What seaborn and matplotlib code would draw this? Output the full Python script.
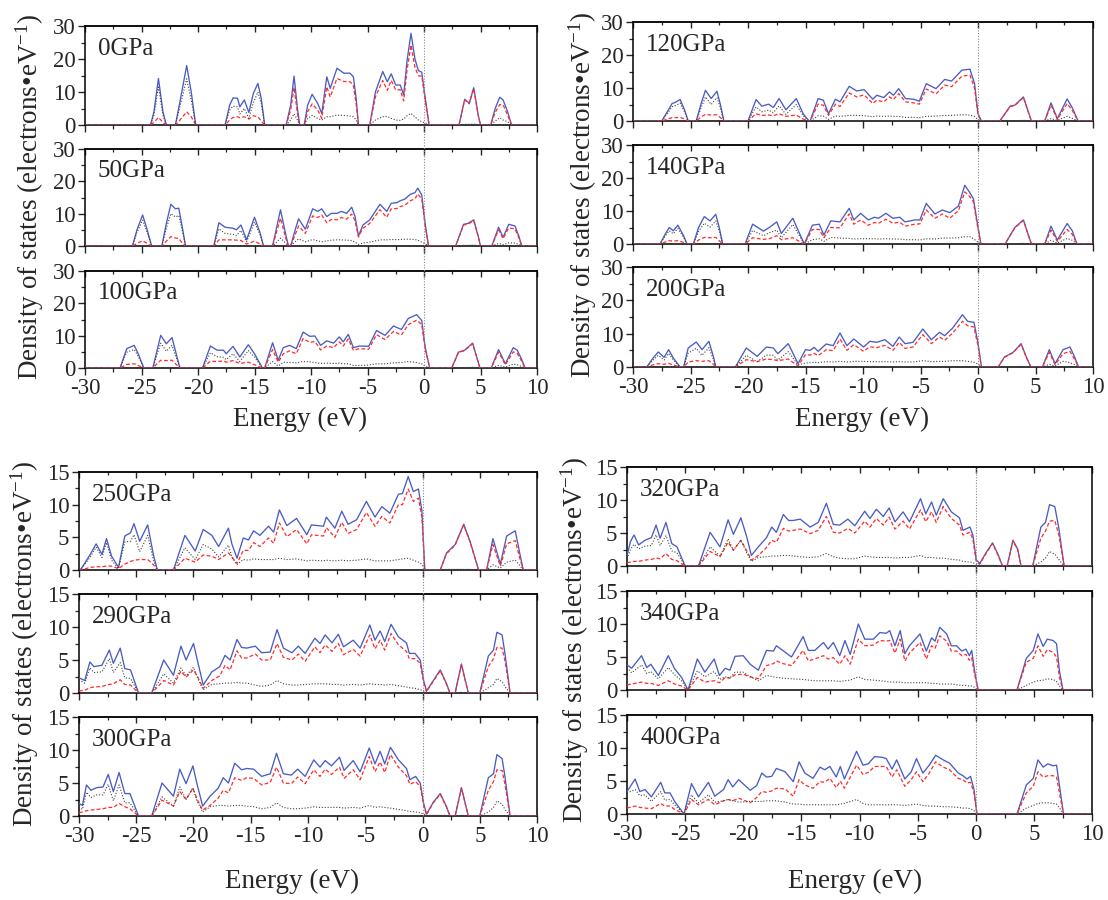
import numpy as np
import pandas as pd
import matplotlib
matplotlib.use('Agg')
import matplotlib.pyplot as plt
import seaborn as sns
from matplotlib.lines import Line2D
from matplotlib.ticker import MultipleLocator

sns.set_style('ticks')
plt.rcParams['font.family'] = ['Liberation Serif', 'DejaVu Serif']
plt.rcParams['mathtext.fontset'] = 'custom'
plt.rcParams['mathtext.rm'] = 'Liberation Serif'
plt.rcParams['mathtext.it'] = 'Liberation Serif:italic'
plt.rcParams['axes.unicode_minus'] = False
plt.rcParams['lines.solid_joinstyle'] = 'round'
plt.rcParams['lines.dash_joinstyle'] = 'round'

# ---- data: rows of (energy eV, total DOS, p-like (red dashed), s-like (black dotted)) ----
P0 = [(-30,0,0,0),(-24.2,0,0,0),(-23.9,4,0.8,3),(-23.5,14.1,2.3,11.5),(-23.1,4,0.8,3),(-22.8,0,0,0),
      (-22.0,0,0,0),(-21.6,7,1.5,5.5),(-21.0,18,4,14),(-20.6,10,2.5,7.5),(-20.2,0,0,0),
      (-17.6,0,0,0),(-17.2,6,1.5,4.5),(-16.9,8.2,2.3,5.7),(-16.5,8.1,2.5,5.5),(-16.3,5.5,2.2,3.3),(-15.9,7.6,2.5,5),
      (-15.5,3.8,1.8,2),(-15.1,9.6,2.8,6.8),(-14.7,12.6,2.5,10),(-14.4,8,1.2,6.5),(-14.1,0,0,0),
      (-12.2,0,0,0),(-11.8,6,4.5,1.5),(-11.5,14.8,11.4,3.4),(-11.2,5,3.5,1.5),(-11.0,0,0,0),
      (-10.6,0,0,0),(-10.3,6,4,2),(-9.9,9.3,6.4,2.9),(-9.4,6.5,4.5,2),(-9.05,3.5,2,1.5),(-8.6,14.6,11.6,2.5),
      (-8.3,11.1,8.5,2.5),(-7.7,17.2,14.1,3),(-7.1,15.7,13.2,2.9),(-6.55,15.7,13.1,2.7),(-6.25,14.6,12.1,2.5),
      (-6.0,8,6.2,1.5),(-5.8,0,0,0),(-4.8,0,0,0),(-4.3,10,8.5,1.5),(-3.65,16.2,13.5,2.5),(-3.25,13.1,10.5,2.6),
      (-2.9,15.5,13.5,2),(-2.5,12.1,10.6,1.5),(-2.1,12.1,10.7,1.4),(-1.8,9.1,7.3,1.8),(-1.5,19.5,16.7,2.8),
      (-1.15,27.8,24.2,3.5),(-0.8,20,17.5,2.5),(-0.5,16.5,14.9,1.5),(-0.2,16,14.8,1.0),(0.2,6,5.4,0.5),(0.45,0,0,0),
      (3.1,0,0,0),(3.6,7.8,7.6,0.2),(4.0,6.6,6.4,0.2),(4.4,11.3,11.0,0.3),(4.8,3,2.9,0.1),(5.0,0,0,0),
      (5.9,0,0,0),(6.3,5,3.8,1.2),(6.7,8.4,6.2,2.2),(7.0,7.6,6.1,1.5),(7.4,4,3,1),(7.75,0,0,0),(10,0,0,0)]

P50 = [(-30,0,0,0),(-25.8,0,0,0),(-25.4,5,0.8,4.2),(-24.9,9.6,1.6,8),(-24.5,5,0.8,4.2),(-24.1,0,0,0),
       (-23.2,0,0,0),(-22.8,7,1.5,5.5),(-22.4,12.9,2.9,10),(-22.0,11.5,2.5,9),(-21.7,11.7,2.3,9.4),(-21.4,6,1,5),(-21.1,0,0,0),
       (-18.6,0,0,0),(-18.15,7.2,1.9,5.3),(-17.6,5.8,1.9,3.9),(-16.9,5.5,1.9,3.6),(-16.6,5.0,1.8,3.2),(-16.2,6.5,1.7,4.8),
       (-15.7,1.9,0.6,1.3),(-15.0,8.9,1.5,7.4),(-14.5,4,0.6,3.4),(-14.2,0,0,0),
       (-13.4,0,0,0),(-12.7,11.2,8.6,2.4),(-12.2,3,2,0.8),(-12.0,0,0,0),
       (-11.8,0,0,0),(-11.4,5,3.5,1.3),(-11.1,8.4,6.2,2.2),(-10.5,5.2,3.9,1.3),(-9.85,11.5,9.3,2.0),(-9.4,10.7,8.8,1.6),
       (-9.05,11.5,9.6,1.3),(-8.6,9.1,7.2,1.6),(-8.2,10.1,8.2,1.8),(-7.7,10.1,8.1,1.9),(-7.3,10.7,8.8,1.9),
       (-6.85,10.1,8.3,1.8),(-6.4,12,9.9,1.7),(-6.1,9.1,7.8,1.2),(-5.8,3.1,2.8,0.5),(-5.4,6.5,5.5,0.9),(-4.8,8.1,7.0,1.2),
       (-3.9,12.9,11.2,1.9),(-3.3,10.7,8.9,1.9),(-2.9,13.2,11.5,2.0),(-2.4,13.4,11.6,2.0),(-2.1,14,12.2,2.0),
       (-1.7,14.5,12.6,2.1),(-1.2,16,14.0,2.1),(-0.8,16.5,14.6,2.0),(-0.55,17.9,16.1,1.8),(-0.2,15.8,14.6,1.2),
       (0.1,7,6.3,0.7),(0.4,0,0,0),
       (2.8,0,0,0),(3.5,6.7,6.5,0.2),(3.9,7,6.8,0.2),(4.4,8.1,7.8,0.3),(4.8,3,2.9,0.1),(5.0,0,0,0),
       (6.0,0,0,0),(6.6,5.8,5.0,0.8),(7.0,2.7,2.3,0.4),(7.5,6.7,5.6,1.0),(8.05,6.2,5.3,0.9),(8.4,3,2.5,0.5),(8.65,0,0,0),(10,0,0,0)]

P100 = [(-30,0,0,0),(-26.9,0,0,0),(-26.3,6,1.1,4.9),(-25.65,7.0,1.3,5.7),(-25.3,4.5,0.8,3.7),(-24.8,0,0,0),
        (-24.0,0,0,0),(-23.3,10.1,2.4,7.7),(-22.8,7.5,2.3,5.2),(-22.3,9.4,2.4,7.0),(-21.9,4,1,3),(-21.6,0,0,0),
        (-19.6,0,0,0),(-18.9,6.8,2.1,4.7),(-18.3,5.5,2.0,3.5),(-17.75,5.5,2.2,3.3),(-17.5,4.4,1.8,2.6),(-16.9,6.7,2.3,4.4),
        (-16.3,3.4,1.4,2.0),(-15.55,7.2,1.8,5.4),(-15.0,4.4,1.0,3.4),(-14.3,0,0,0),
        (-14.1,0,0,0),(-13.4,7.8,5.7,2.0),(-12.9,2.4,1.8,0.6),(-12.45,6.3,4.4,1.8),(-11.9,7.0,5.3,1.7),(-11.3,6.0,4.4,1.6),
        (-10.7,11.1,9.1,2.0),(-10.1,9.8,7.9,1.9),(-9.65,9.9,8.2,1.7),(-9.15,7.0,5.6,1.4),(-8.6,8.4,6.8,1.5),(-8.0,7.7,6.3,1.4),
        (-7.5,9.6,8.1,1.5),(-7.15,8.1,6.8,1.3),(-6.7,10.4,9.0,1.3),(-6.25,6.3,5.5,0.8),(-5.7,6.8,6.0,0.8),(-4.9,6.7,5.8,0.9),
        (-4.2,11.6,10.3,1.3),(-3.45,10.1,8.8,1.3),(-2.7,13.0,11.3,1.6),(-2.0,11.9,10.2,1.7),(-1.4,15.3,13.4,2.0),
        (-0.65,16.5,14.8,1.7),(-0.2,14.7,13.4,1.3),(0.1,6.5,6.0,0.5),(0.5,0,0,0),
        (2.45,0,0,0),(3.05,4.9,4.8,0.1),(3.6,5.5,5.4,0.1),(4.3,7.7,7.5,0.2),(4.7,3,2.9,0.1),(4.95,0,0,0),
        (5.95,0,0,0),(6.6,5.7,4.9,0.8),(7.2,1.3,1.0,0.3),(7.9,6.3,5.0,1.2),(8.25,5.5,4.5,1.0),(8.6,3,2.4,0.5),(8.95,0,0,0),(10,0,0,0)]

P120 = [(-30,0,0,0),(-27.5,0,0,0),(-26.9,3.5,0.7,2.8),(-26.6,5.3,1.0,4.3),(-26.35,5.6,1.0,4.6),(-25.9,6.5,1.1,5.4),
        (-25.5,3.2,0.6,2.6),(-25.2,0,0,0),
        (-24.5,0,0,0),(-24.1,5,1.2,3.8),(-23.7,9.3,2.0,7.3),(-23.2,6.8,1.8,5.0),(-22.7,9.0,1.9,7.1),(-22.4,5,1,4),(-22.1,0,0,0),
        (-20.0,0,0,0),(-19.3,6.5,2.2,4.3),(-18.8,4.5,1.7,2.8),(-18.2,5.1,1.8,3.3),(-17.8,4.1,1.6,2.5),(-17.3,6.8,2.2,4.6),
        (-16.7,3.4,1.4,2.0),(-15.8,6.8,1.8,5.0),(-15.2,2.2,0.6,1.6),(-14.7,0,0,0),
        (-14.6,0,0,0),(-13.9,6.8,5.1,1.6),(-13.45,6.3,4.8,1.5),(-13.0,2.2,1.7,0.5),(-12.4,6.6,5.1,1.5),(-12.0,5.8,4.4,1.4),
        (-11.2,10.5,8.5,1.7),(-10.55,9.1,7.3,1.7),(-9.9,9.5,7.9,1.6),(-9.15,6.6,5.3,1.3),(-8.8,7.8,6.3,1.5),(-8.2,7.1,5.8,1.4),
        (-7.7,8.8,7.3,1.5),(-7.35,7.8,6.5,1.4),(-6.9,9.8,8.3,1.4),(-6.3,6.8,5.8,1.1),(-5.6,6.6,5.5,1.1),(-5.1,6.0,5.1,1.0),
        (-4.5,11.3,9.7,1.4),(-3.65,9.8,8.2,1.5),(-2.9,12.6,10.9,1.7),(-2.3,12.1,10.4,1.7),(-1.4,15.4,13.6,1.9),
        (-0.7,15.7,13.9,1.8),(-0.3,11.3,10.0,1.3),(0.0,2.2,1.8,0.4),(0.3,0,0,0),
        (1.9,0,0,0),(2.8,4.5,4.4,0.1),(3.2,4.8,4.7,0.1),(3.95,7.3,7.1,0.2),(4.4,2.5,2.4,0.1),(4.65,0,0,0),
        (5.8,0,0,0),(6.35,5.5,4.8,0.7),(6.9,0.7,0.5,0.2),(7.75,6.7,5.3,1.4),(8.2,4,3.2,0.8),(8.7,0,0,0),(10,0,0,0)]

P140 = [(-30,0,0,0),(-27.65,0,0,0),(-27.2,3,0.6,2.4),(-26.85,5.0,1.0,4.0),(-26.5,4.0,0.9,3.1),(-26.1,5.7,1.0,4.7),
        (-25.6,2.5,0.5,2.0),(-25.3,0,0,0),
        (-24.75,0,0,0),(-24.3,5,1.2,3.8),(-23.8,8.3,2.0,6.3),(-23.3,7.0,1.9,5.1),(-22.8,9.0,2.0,7.0),(-22.5,5,1,4),(-22.2,0,0,0),
        (-20.25,0,0,0),(-19.6,6.0,1.9,4.1),(-18.65,3.9,1.4,2.5),(-18.15,5.0,1.6,3.4),(-17.5,6.7,2.5,4.2),(-17.1,3.2,1.3,1.9),
        (-16.1,7.8,1.9,5.9),(-15.65,4.2,1.0,3.2),(-15.1,0,0,0),
        (-14.4,5.7,4.4,1.3),(-13.8,6.0,4.4,1.6),(-13.4,2.7,1.9,0.8),(-12.8,7.0,5.0,2.0),(-12.0,6.7,4.9,1.8),(-11.2,10.8,9.1,1.7),
        (-10.8,7.3,6.0,1.5),(-10.2,9.3,7.3,1.6),(-9.55,7.3,5.7,1.6),(-9.0,8.1,6.5,1.6),(-8.65,7.8,6.3,1.5),(-8.0,9.3,7.5,1.6),
        (-7.4,7.8,6.3,1.5),(-6.8,8.1,6.6,1.5),(-6.35,6.7,5.4,1.3),(-5.5,7.3,6.0,1.3),(-5.05,7.3,6.1,1.2),(-4.5,12.3,10.3,1.6),
        (-3.75,9.1,7.8,1.5),(-3.1,10.3,9.1,1.8),(-2.45,9.5,7.8,1.8),(-1.7,11.5,10.1,1.9),(-1.15,17.8,15.8,2.2),
        (-0.7,15.5,14.3,2.2),(-0.4,13.7,12.8,1.6),(-0.1,7.3,6.5,0.8),(0.25,0,0,0),
        (2.35,0,0,0),(3.2,5.0,4.9,0.1),(3.95,7.3,7.1,0.2),(4.4,2.5,2.4,0.1),(4.65,0,0,0),
        (5.8,0,0,0),(6.35,5.4,4.2,1.1),(6.9,1.2,0.8,0.3),(7.75,6.2,4.4,1.7),(8.2,4,2.9,1.1),(8.6,0,0,0),(10,0,0,0)]

P200 = [(-30,0,0,0),(-28.8,0,0,0),(-28.3,2.5,0.6,1.9),(-27.8,4.5,1.0,3.5),(-27.3,2.9,0.8,2.1),(-26.9,5.2,1.1,4.1),
        (-26.5,2.7,0.6,2.1),(-25.9,0,0,0),
        (-25.6,0,0,0),(-25.2,5.7,1.5,4.2),(-24.5,7.5,1.9,5.6),(-24.0,5.2,1.7,3.5),(-23.4,7.7,1.9,5.8),(-23.0,3,0.8,2.2),(-22.8,0,0,0),
        (-21.1,0,0,0),(-20.15,5.7,2.2,3.5),(-19.2,3.2,1.6,1.6),(-18.4,6.0,2.4,3.6),(-17.8,5.7,2.2,3.5),(-17.4,4.0,1.9,2.1),
        (-16.5,7.0,2.4,4.6),(-16.1,4.2,1.4,2.8),(-15.65,1.0,0.4,0.6),
        (-15.0,5.2,3.7,1.2),(-14.6,5.0,3.6,1.3),(-14.25,5.9,4.1,1.4),(-13.9,4.7,3.4,1.3),(-13.2,6.9,5.2,1.6),(-12.6,6.4,4.9,1.5),
        (-12.0,10.2,8.4,1.7),(-11.4,6.4,5.0,1.5),(-10.8,8.4,6.7,1.7),(-9.95,6.0,4.7,1.7),(-9.4,7.7,6.1,1.6),(-8.8,7.4,5.8,1.6),
        (-8.1,8.2,6.5,1.6),(-7.4,6.2,5.0,1.5),(-6.85,9.0,7.4,1.6),(-6.35,7.0,5.6,1.5),(-5.65,7.4,6.0,1.5),(-4.8,11.4,9.7,1.9),
        (-4.05,8.2,7.0,1.6),(-3.35,10.4,9.0,1.7),(-2.9,9.4,8.0,1.7),(-2.2,11.7,10.2,1.9),(-1.35,15.7,13.7,1.9),
        (-0.9,13.7,12.4,1.7),(-0.35,13.4,12.0,1.4),(0.0,7.2,6.3,0.9),(0.3,0,0,0),
        (1.75,0,0,0),(2.3,3.0,2.9,0.1),(3.05,4.4,4.3,0.1),(3.75,7.0,6.8,0.2),(4.2,3,2.9,0.1),(4.6,0,0,0),
        (5.6,0,0,0),(6.2,5.2,4.4,0.8),(6.7,1.0,0.7,0.3),(7.4,5.2,4.0,1.7),(8.0,6.0,4.7,1.3),(8.4,3,2.3,0.7),(8.75,0,0,0),(10,0,0,0)]

P250 = [(-30,0,0,0),(-29.8,0.2,0,0.2),(-29.05,2.3,0.4,1.9),(-28.5,4.0,0.5,3.5),(-28.0,2.4,0.5,1.9),(-27.6,4.8,0.6,4.2),
        (-27.15,2.1,0.6,1.5),(-26.55,0.4,0.2,0.2),(-26.0,5.2,0.9,4.3),(-25.5,5.7,1.3,4.4),(-25.2,7.1,1.5,5.4),(-24.7,4.4,1.6,2.8),
        (-24.0,6.9,1.6,5.3),(-23.5,2.3,0.8,1.5),(-23.15,0,0,0),
        (-21.75,0,0,0),(-20.75,5.3,1.8,3.4),(-19.85,2.9,1.2,1.6),(-19.15,6.2,2.3,3.9),(-18.4,5.3,2.1,3.2),(-17.8,3.6,1.6,2.0),
        (-16.95,6.4,2.6,3.8),(-16.65,4.0,2.0,2.0),(-16.2,1.8,1.0,0.8),(-15.65,4.9,3.0,1.6),(-15.2,4.6,3.0,1.5),(-14.75,6.0,4.2,1.7),
        (-14.2,5.3,3.6,1.6),(-13.45,6.7,4.9,1.6),(-13.0,5.8,4.1,1.6),(-12.5,9.2,7.2,1.8),(-11.85,6.8,5.1,1.6),(-11.0,7.9,6.2,1.7),
        (-10.1,5.4,4.0,1.4),(-9.7,6.9,5.4,1.5),(-8.65,6.7,5.2,1.4),(-8.4,8.1,6.5,1.5),(-7.65,6.4,5.0,1.4),(-7.05,9.0,7.3,1.5),
        (-6.5,7.0,5.6,1.4),(-5.75,7.7,6.2,1.5),(-4.9,10.5,8.8,1.7),(-4.15,8.1,6.7,1.4),(-3.55,9.7,8.2,1.4),(-2.85,8.7,7.2,1.4),
        (-2.1,11.6,10.0,1.6),(-1.75,11.7,10.0,1.7),(-1.25,14.3,12.4,1.8),(-0.8,12.0,10.5,1.5),(-0.35,12.4,11.0,1.2),
        (-0.05,9.0,8.0,0.9),(0.2,0,0,0),
        (1.55,0,0,0),(2.1,2.6,2.5,0.1),(2.85,3.9,3.8,0.1),(3.6,7.0,6.9,0.1),(4.15,4.4,4.3,0.1),(4.9,0,0,0),
        (5.6,0,0,0),(6.15,4.8,3.9,0.8),(6.8,0.9,0.6,0.3),(7.35,5.2,4.0,1.2),(8.1,6.0,4.5,1.5),(8.5,2.5,1.8,0.7),(8.8,0,0,0),(10,0,0,0)]

P290 = [(-30,2.3,0.3,2.0),(-29.5,1.9,0.4,1.5),(-29.05,4.7,0.8,3.8),(-28.7,4.0,0.9,3.1),(-28.0,4.2,1.0,3.2),(-27.35,6.5,1.3,5.2),
        (-27.0,4.5,1.4,3.1),(-26.4,6.8,2.0,4.6),(-26.0,3.7,1.3,2.3),(-25.5,3.5,1.2,2.2),(-24.8,0,0,0),(-23.65,0,0,0),
        (-22.6,5.0,1.9,2.9),(-21.75,2.7,1.2,1.5),(-21.1,7.1,3.3,3.8),(-20.65,5.0,2.4,2.6),(-20.0,7.5,3.5,3.9),(-19.6,4.5,2.3,2.1),
        (-19.15,1.2,0.7,0.5),(-18.4,3.2,1.9,1.3),(-17.7,4.0,2.6,1.4),(-17.25,5.7,4.2,1.5),(-16.8,5.0,3.5,1.5),(-16.2,8.1,6.4,1.6),
        (-15.8,6.9,5.3,1.5),(-15.35,6.8,5.3,1.5),(-14.6,7.1,5.9,1.2),(-14.05,6.1,5.0,1.0),(-13.3,6.2,5.0,1.2),(-12.7,9.6,7.5,1.9),
        (-12.15,6.8,5.4,1.4),(-11.4,6.1,5.0,1.2),(-10.85,7.1,5.9,1.2),(-10.25,6.0,4.8,1.3),(-9.4,8.3,7.0,1.4),(-8.95,7.5,6.1,1.4),
        (-8.5,8.8,7.3,1.4),(-7.9,7.6,6.3,1.3),(-7.35,8.9,7.5,1.3),(-6.9,7.0,5.8,1.2),(-6.05,8.0,6.6,1.3),(-5.45,6.8,5.6,1.2),
        (-4.6,10.3,8.8,1.4),(-4.15,8.0,6.7,1.3),(-3.7,9.4,8.0,1.3),(-3.3,7.8,6.5,1.2),(-2.75,10.4,9.0,1.3),(-2.1,8.5,7.3,1.1),
        (-1.4,7.6,6.3,0.9),(-1.15,6.0,5.2,0.8),(-0.65,6.0,5.2,0.7),(-0.2,5.0,4.5,0.5),(0.1,1.9,1.6,0.3),(0.35,0.3,0.2,0.1),
        (0.95,1.9,1.8,0.1),(1.55,3.5,3.4,0.1),(2.1,1.4,1.3,0.1),(2.4,0,0,0),(2.85,0,0,0),(3.4,4.4,4.3,0.1),(4.0,0,0,0),(5.0,0,0,0),
        (5.75,5.6,4.0,0.8),(6.2,6.5,5.2,1.3),(6.5,9.2,6.9,2.2),(6.95,8.8,6.8,1.7),(7.2,6.0,4.9,1.0),(7.65,0,0,0),(10,0,0,0)]

P300 = [(-30,1.9,0.5,1.4),(-29.7,1.6,0.6,1.0),(-29.35,4.7,0.8,3.6),(-28.95,3.9,0.9,2.8),(-28.45,4.3,1.0,3.2),(-27.9,4.4,1.1,3.2),
        (-27.45,6.3,1.3,4.8),(-27.0,3.7,1.3,2.3),(-26.5,6.6,1.9,4.7),(-26.0,3.4,1.4,2.0),(-25.55,3.4,1.1,2.0),(-24.8,0,0,0),(-23.65,0,0,0),
        (-22.75,5.0,2.4,2.9),(-21.75,3.0,1.5,1.5),(-21.2,7.1,3.7,4.4),(-20.65,4.9,2.5,2.5),(-20.05,7.6,4.2,4.3),(-19.7,4.9,2.6,2.3),
        (-19.2,1.5,0.9,0.6),(-18.55,3.0,1.6,1.4),(-17.85,4.2,2.7,1.6),(-17.4,5.8,3.9,1.6),(-16.95,5.0,3.5,1.5),(-16.4,8.0,5.8,1.6),
        (-15.8,7.0,5.4,1.6),(-15.35,7.2,5.8,1.5),(-14.75,7.1,5.7,1.4),(-14.05,6.0,4.7,1.1),(-13.3,6.4,5.1,1.3),(-12.75,9.5,7.4,2.0),
        (-12.15,6.4,5.0,1.3),(-11.45,6.2,4.9,1.1),(-10.9,7.1,5.9,1.1),(-10.25,6.0,4.9,1.2),(-9.5,8.5,7.0,1.4),(-8.95,7.4,6.0,1.3),
        (-8.5,8.4,7.1,1.3),(-7.95,7.6,6.3,1.3),(-7.25,8.9,7.4,1.3),(-6.85,6.9,5.7,1.2),(-6.05,8.4,7.0,1.3),(-5.45,6.7,5.5,1.2),
        (-4.65,10.3,9.0,1.6),(-4.15,7.9,6.7,1.3),(-3.7,9.8,8.2,1.4),(-3.3,7.9,6.6,1.3),(-2.8,10.4,9.3,1.2),(-2.1,8.5,7.4,1.0),
        (-1.4,7.2,6.1,0.8),(-1.1,5.5,4.8,0.7),(-0.6,6.0,5.2,0.6),(-0.2,5.0,4.5,0.5),(0.1,1.9,1.6,0.3),(0.35,0.3,0.2,0.1),
        (0.95,2.1,2.0,0.1),(1.55,3.4,3.3,0.1),(2.1,1.4,1.3,0.1),(2.4,0,0,0),(2.85,0,0,0),(3.4,4.3,4.2,0.1),(4.0,0,0,0),(5.0,0,0,0),
        (5.75,5.8,3.9,0.6),(6.2,6.4,5.2,1.3),(6.5,9.3,7.0,2.3),(6.95,8.7,6.9,1.8),(7.2,6.0,4.8,1.0),(7.65,0,0,0),(10,0,0,0)]

P320 = [(-30,1.6,0.5,1.1),(-29.7,3.7,0.6,2.5),(-29.4,4.7,0.7,3.3),(-29.0,3.2,0.7,2.6),(-28.45,3.9,0.9,3.0),(-27.9,4.3,1.0,3.1),
        (-27.5,6.2,1.2,4.7),(-27.15,4.2,1.1,3.1),(-26.65,6.6,1.9,4.6),(-26.15,3.4,1.0,2.3),(-25.7,2.9,0.8,2.0),(-25.0,0,0,0),(-23.85,0,0,0),
        (-22.85,5.1,2.2,2.9),(-22.0,2.9,1.4,1.5),(-21.3,7.0,3.6,4.1),(-20.85,4.8,2.4,2.4),(-20.2,7.3,3.9,3.9),(-19.7,4.4,2.3,2.0),
        (-19.3,1.6,0.9,0.7),(-18.7,2.9,1.6,1.3),(-18.0,4.3,2.8,1.4),(-17.55,5.9,3.9,1.5),(-17.15,5.1,3.6,1.5),(-16.55,7.8,5.7,1.6),
        (-16.1,6.9,5.3,1.6),(-15.7,6.9,5.4,1.5),(-15.1,7.1,5.6,1.4),(-14.25,5.9,4.9,1.3),(-13.55,6.6,5.4,1.4),(-12.85,9.5,7.5,1.9),
        (-12.25,6.3,5.1,1.4),(-11.7,6.2,5.0,1.2),(-11.0,7.1,5.7,1.1),(-10.4,6.1,5.0,1.1),(-9.55,8.3,6.8,1.5),(-9.1,7.2,5.9,1.4),
        (-8.55,8.6,7.2,1.3),(-7.95,7.5,6.2,1.3),(-7.45,8.8,7.4,1.3),(-6.95,6.7,5.6,1.2),(-6.25,8.2,6.8,1.3),(-5.7,6.7,5.6,1.3),
        (-4.75,10.2,8.5,1.6),(-4.3,7.9,6.7,1.3),(-3.8,9.7,8.2,1.3),(-3.4,7.7,6.6,1.2),(-2.8,10.2,9.0,1.2),(-2.1,8.2,7.2,1.0),
        (-1.4,7.3,6.2,0.9),(-1.1,5.4,4.7,0.7),(-0.5,5.9,5.1,0.6),(-0.25,4.7,4.1,0.5),(0.05,0.9,0.6,0.3),(0.35,0.4,0.3,0.1),
        (0.95,2.2,2.1,0.1),(1.45,3.5,3.4,0.1),(1.95,1.6,1.5,0.1),(2.3,0,0,0),(2.7,0,0,0),(3.2,3.9,3.8,0.1),(3.6,2.6,2.5,0.1),
        (3.9,0,0,0),(4.9,0,0,0),
        (5.6,5.9,4.2,0.6),(6.0,6.6,5.3,1.2),(6.35,9.3,6.8,2.2),(6.8,9.0,6.9,1.8),(7.15,5.7,4.7,1.0),(7.6,0,0,0),(10,0,0,0)]

P340 = [(-30,3.8,0.8,3.4),(-29.6,3.3,0.9,2.6),(-28.75,5.2,1.2,3.8),(-28.3,3.4,1.0,2.5),(-27.95,3.9,1.0,2.8),(-27.3,2.2,0.7,1.7),
        (-26.45,5.2,1.4,3.4),(-25.9,3.2,0.9,2.3),(-25.3,1.9,0.6,1.4),(-24.75,0,0,0),
        (-23.95,4.7,1.9,2.9),(-23.3,2.7,1.2,2.0),(-22.5,4.7,1.4,2.8),(-22.05,2.2,1.1,1.6),(-21.55,3.3,1.9,2.0),(-21.15,3.0,1.8,1.8),
        (-20.7,5.1,2.3,2.7),(-20.0,5.2,2.4,2.7),(-19.4,3.9,2.0,2.0),(-18.7,3.0,1.7,1.4),(-18.0,6.0,3.7,2.2),(-17.4,5.9,4.0,2.0),
        (-17.15,6.7,4.4,1.9),(-16.6,6.0,4.0,1.8),(-15.85,5.0,3.7,1.7),(-14.85,8.1,6.0,1.6),(-14.4,6.0,4.4,1.5),(-13.85,6.0,4.7,1.4),
        (-13.1,7.2,5.2,1.4),(-12.7,6.2,4.7,1.4),(-12.25,7.2,4.9,1.4),(-11.7,5.2,3.9,1.3),(-11.25,7.5,5.2,1.4),(-10.8,5.4,3.9,1.5),
        (-10.1,10.0,7.7,2.0),(-9.55,7.7,6.7,1.6),(-8.8,7.7,6.8,1.5),(-8.25,8.7,7.5,1.4),(-7.7,8.6,7.4,1.3),(-7.4,9.0,7.5,1.2),
        (-6.95,6.7,5.6,1.2),(-6.5,9.0,7.7,1.2),(-6.1,5.5,4.4,1.1),(-5.7,6.7,5.6,1.1),(-4.8,8.5,7.2,1.1),(-4.25,5.9,4.7,1.1),
        (-3.8,7.9,6.7,1.0),(-3.5,7.4,6.3,1.0),(-3.1,9.5,8.2,0.9),(-2.5,8.5,7.4,0.9),(-2.1,6.7,5.9,0.9),(-1.65,6.7,5.9,0.8),
        (-1.2,5.9,5.2,0.7),(-0.85,6.2,5.4,0.7),(-0.55,5.2,4.5,0.6),(-0.35,6.0,4.9,0.6),(-0.1,2.9,2.4,0.4),(0.2,0,0,0),
        (3.55,0,0,0),(4.35,4.8,4.2,0.7),(4.95,6.0,4.8,1.2),(5.35,8.5,6.7,1.4),(5.8,6.6,5.1,1.5),(6.15,7.7,6.1,1.7),
        (6.65,7.5,5.7,1.6),(6.95,7.0,5.0,1.3),(7.2,2.9,1.9,0.6),(7.5,0,0,0),(10,0,0,0)]

P400 = [(-30,3.4,0.9,3.2),(-29.3,5.3,1.2,3.7),(-28.9,3.4,1.0,2.8),(-28.45,3.7,0.9,2.9),(-27.9,2.6,0.8,1.9),(-27.1,4.8,1.6,3.4),
        (-26.75,3.2,1.2,2.1),(-26.3,3.2,1.2,2.2),(-25.9,1.9,0.7,1.4),(-25.1,0,0,0),
        (-24.45,4.6,2.2,2.9),(-23.85,2.6,1.4,1.7),(-23.0,4.8,2.2,2.9),(-22.45,2.7,1.4,1.8),(-21.7,3.7,2.0,2.0),(-21.3,5.2,2.2,2.2),
        (-20.9,4.1,2.0,2.0),(-20.4,5.2,2.4,1.8),(-19.4,3.6,1.7,1.9),(-18.85,4.3,2.5,1.9),(-18.4,6.2,3.4,1.9),(-18.0,5.6,3.3,2.0),
        (-17.55,5.7,3.5,2.0),(-17.15,6.9,3.9,2.0),(-16.4,6.4,3.8,1.8),(-15.7,4.9,2.7,1.5),(-15.2,7.9,5.2,1.5),(-14.7,6.2,4.4,1.4),
        (-14.0,5.4,3.9,1.4),(-13.4,7.1,4.9,1.4),(-13.0,6.7,4.8,1.4),(-12.55,7.2,5.4,1.4),(-12.0,5.6,4.0,1.4),(-11.65,7.2,5.0,1.5),
        (-11.3,5.3,3.9,1.6),(-10.25,9.5,7.4,2.2),(-9.7,7.4,6.0,1.6),(-9.25,7.6,6.3,1.4),(-8.7,8.7,7.2,1.4),(-8.1,8.6,7.2,1.4),
        (-7.7,8.4,7.2,1.4),(-7.2,6.8,5.6,1.4),(-6.8,8.2,6.7,1.4),(-6.1,5.3,4.2,1.3),(-5.55,6.4,5.2,1.4),(-5.1,8.4,6.4,1.5),
        (-4.55,6.2,4.9,1.3),(-4.0,7.4,6.2,1.2),(-3.45,8.9,7.9,1.2),(-2.8,8.2,7.1,1.1),(-2.25,7.7,6.7,1.1),(-1.5,6.2,5.4,1.0),
        (-1.1,5.8,5.2,0.9),(-0.75,5.3,4.7,0.9),(-0.45,5.7,4.8,0.8),(-0.15,3.7,3.2,0.5),(0.1,0,0,0),
        (3.55,0,0,0),(4.35,4.4,3.2,0.9),(4.95,5.4,4.2,1.3),(5.35,8.2,6.4,1.6),(5.8,7.1,5.6,1.7),(6.2,7.6,5.8,1.7),
        (6.65,7.3,5.8,1.6),(6.95,7.4,5.6,1.5),(7.25,3.7,2.7,0.8),(7.55,0,0,0),(10,0,0,0)]

PRESSURE_LABELS = ['0GPa', '50GPa', '100GPa', '120GPa', '140GPa', '200GPa',
                   '250GPa', '290GPa', '300GPa', '320GPa', '340GPa', '400GPa']
X_TICKS = [-30, -25, -20, -15, -10, -5, 0, 5, 10]
Y_LABEL = 'Density of states (electrons\u2022eV$^{\\mathrm{-1}}$)'
X_LABEL = 'Energy (eV)'

# ---- layout ----
W, H = 1108, 900
fig = plt.figure(figsize=(W / 100, H / 100), dpi=100)

BLUE = '#4a5cc4'
RED = '#ff2a2a'
DOT = '#404040'


def rect(x0, x1, y0, y1):
    return [x0 / W, 1 - y1 / H, (x1 - x0) / W, (y1 - y0) / H]


groups = [
    dict(x=(85, 537), ys=[(26, 125), (149, 246), (271, 368)], data=[P0, P50, P100], labels=PRESSURE_LABELS[0:3],
         ymax=30, ymaj=10, ymin=5, ylab=(30, 197), xlab=(300, 419)),
    dict(x=(633, 1093), ys=[(22, 121), (145, 244), (267, 367)], data=[P120, P140, P200], labels=PRESSURE_LABELS[3:6],
         ymax=30, ymaj=10, ymin=5, ylab=(583, 195), xlab=(862, 419)),
    dict(x=(79, 537), ys=[(472, 570), (594, 693), (717, 816)], data=[P250, P290, P300], labels=PRESSURE_LABELS[6:9],
         ymax=15, ymaj=5, ymin=2.5, ylab=(25, 644), xlab=(292, 881)),
    dict(x=(627, 1092), ys=[(467, 566), (591, 690), (715, 814)], data=[P320, P340, P400], labels=PRESSURE_LABELS[9:12],
         ymax=15, ymaj=5, ymin=2.5, ylab=(575, 640), xlab=(855, 881)),
]

TICK_FS = 16.5
for g in groups:
    x0, x1 = g['x']
    for i, ((y0, y1), rows, lab) in enumerate(zip(g['ys'], g['data'], g['labels'])):
        ax = fig.add_axes(rect(x0, x1, y0, y1))
        df = pd.DataFrame(rows, columns=['E', 'total', 'p', 's'])
        sns.lineplot(data=df, x='E', y='total', ax=ax, color=BLUE, lw=0.95, sort=False, estimator=None, zorder=3)
        sns.lineplot(data=df, x='E', y='p', ax=ax, color=RED, lw=0.9, linestyle=(0, (3, 1.8)), sort=False,
                     estimator=None, zorder=4)
        sns.lineplot(data=df, x='E', y='s', ax=ax, color=DOT, lw=0.8, linestyle=(0, (1, 1.6)), sort=False,
                     estimator=None, zorder=5)
        ax.set_xlim(-30, 10)
        ax.set_ylim(0, g['ymax'])
        ax.set_xlabel('')
        ax.set_ylabel('')
        ax.set_xticks(X_TICKS)
        ax.xaxis.set_minor_locator(MultipleLocator(2.5))
        ax.yaxis.set_major_locator(MultipleLocator(g['ymaj']))
        ax.yaxis.set_minor_locator(MultipleLocator(g['ymin']))
        ax.tick_params(axis='both', which='major', direction='out', length=5, width=1.0, labelsize=TICK_FS, pad=2,
                       top=False, right=False)
        ax.tick_params(axis='both', which='minor', direction='out', length=3, width=0.9, top=False, right=False)
        if i < 2:
            ax.tick_params(axis='x', labelbottom=False)
        # inward ticks along the top spine
        sec = ax.secondary_xaxis('top')
        sec.set_xticks(X_TICKS)
        sec.xaxis.set_minor_locator(MultipleLocator(2.5))
        sec.tick_params(axis='x', which='major', direction='in', length=4, width=1.0, labeltop=False)
        sec.tick_params(axis='x', which='minor', direction='in', length=2.5, width=0.9)
        sec.spines['top'].set_linewidth(1.1)
        for sp in ax.spines.values():
            sp.set_linewidth(1.1)
            sp.set_color('black')
        ax.text(0.028, 0.77, lab, transform=ax.transAxes, ha='left', va='center', fontsize=18)
    # Fermi level dotted line spanning the group
    xf = (x0 + (0 - (-30)) / 40 * (x1 - x0)) / W
    ytop = 1 - g['ys'][0][0] / H
    ybot = 1 - g['ys'][2][1] / H
    fig.add_artist(Line2D([xf, xf], [ybot, ytop], transform=fig.transFigure, color='#888888', lw=0.8,
                          linestyle=(0, (1, 1.5)), zorder=10))
    fig.text(g['ylab'][0] / W, 1 - g['ylab'][1] / H, Y_LABEL, rotation=90, ha='center', va='center', fontsize=19.5)
    fig.text(g['xlab'][0] / W, 1 - g['xlab'][1] / H, X_LABEL, ha='center', va='center', fontsize=19.5)

fig.savefig('out.png', dpi=100)
